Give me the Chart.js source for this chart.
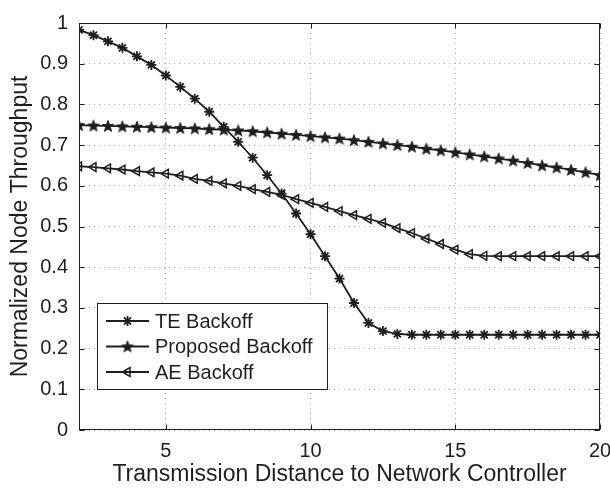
<!DOCTYPE html>
<html><head><meta charset="utf-8">
<script src="https://cdn.jsdelivr.net/npm/chart.js@4.4.0/dist/chart.umd.min.js"></script>
<style>html,body{margin:0;padding:0;background:#fff;}#wrap{width:610px;height:491px;}</style>
</head><body><div id="wrap"><canvas id="c" width="610" height="491"></canvas></div>
<script>
const distances = [2,2.5,3,3.5,4,4.5,5,5.5,6,6.5,7,7.5,8,8.5,9,9.5,10,10.5,11,11.5,12,12.5,13,13.5,14,14.5,15,15.5,16,16.5,17,17.5,18,18.5,19,19.5,20];
const teBackoff = [0.983,0.970,0.955,0.939,0.918,0.897,0.871,0.843,0.814,0.782,0.745,0.708,0.669,0.626,0.581,0.532,0.481,0.427,0.372,0.312,0.263,0.243,0.236,0.234,0.234,0.234,0.234,0.234,0.234,0.234,0.234,0.234,0.234,0.234,0.234,0.234,0.234];
const proposedBackoff = [0.749,0.748,0.747,0.746,0.745,0.744,0.743,0.742,0.741,0.739,0.738,0.736,0.734,0.731,0.728,0.725,0.722,0.719,0.716,0.712,0.708,0.704,0.700,0.696,0.691,0.687,0.682,0.677,0.672,0.667,0.662,0.656,0.650,0.645,0.639,0.633,0.626];
const aeBackoff = [0.648,0.646,0.643,0.640,0.636,0.633,0.630,0.625,0.617,0.612,0.606,0.600,0.592,0.585,0.578,0.567,0.558,0.548,0.538,0.528,0.519,0.509,0.496,0.484,0.470,0.457,0.443,0.432,0.428,0.427,0.427,0.427,0.427,0.427,0.427,0.427,0.427];
const xTicks = [5,10,15,20];
const yTicks = [0,0.1,0.2,0.3,0.4,0.5,0.6,0.7,0.8,0.9,1];
const seriesNames = ['TE Backoff','Proposed Backoff','AE Backoff'];
const xTitle = 'Transmission Distance to Network Controller';
const yTitle = 'Normalized Node Throughput';

const INK = '#1e1e1e';
const FONT = "'Liberation Sans', Arial, Helvetica, sans-serif";

function makeStar(r){
  const s = Math.ceil(r*2+4);
  const c = document.createElement('canvas'); c.width = s; c.height = s;
  const g = c.getContext('2d');
  g.translate(s/2, s/2+0.5);
  g.beginPath();
  for (let k=0;k<10;k++){
    const rr = (k%2) ? r*0.42 : r;
    const a = -Math.PI/2 + k*Math.PI/5;
    g.lineTo(rr*Math.cos(a), rr*Math.sin(a));
  }
  g.closePath();
  g.fillStyle = INK; g.fill();
  g.lineWidth = 1; g.strokeStyle = INK; g.stroke();
  return c;
}
const starImg = makeStar(6);

const pts = arr => distances.map((d,i)=>({x:d, y:arr[i]}));

const frame = {
  id:'frame',
  afterDraw(chart){
    const {ctx, chartArea:a, scales:{x, y}} = chart;
    ctx.save();
    ctx.strokeStyle = INK; ctx.lineWidth = 1;
    const L = Math.round(a.left)+0.5, R = Math.round(a.right)-0.5, T = Math.round(a.top)+0.5, B = Math.round(a.bottom)-0.5;
    ctx.strokeRect(L, T, R-L, B-T);
    const tl = 5;
    ctx.beginPath();
    xTicks.forEach(v=>{
      const px = Math.round(x.getPixelForValue(v))+0.5;
      ctx.moveTo(px, B); ctx.lineTo(px, B-tl);
      ctx.moveTo(px, T); ctx.lineTo(px, T+tl);
    });
    yTicks.forEach(v=>{
      const py = Math.round(y.getPixelForValue(v))+0.5;
      ctx.moveTo(L, py); ctx.lineTo(L+tl, py);
      ctx.moveTo(R, py); ctx.lineTo(R-tl, py);
    });
    ctx.stroke();

    // legend
    const lx = 97.5, ly = 303.5, lw = 230, lh = 86;
    ctx.fillStyle = '#fff';
    ctx.fillRect(lx, ly, lw, lh);
    ctx.strokeStyle = INK; ctx.lineWidth = 1;
    ctx.strokeRect(lx, ly, lw, lh);
    ctx.font = '20px ' + FONT;
    ctx.textBaseline = 'middle';
    chart.data.datasets.forEach((ds, i)=>{
      const ry = 321 + i*25.5;
      ctx.strokeStyle = INK; ctx.lineWidth = 1.8;
      ctx.beginPath(); ctx.moveTo(106, ry); ctx.lineTo(149, ry); ctx.stroke();
      const opts = {pointStyle: ds.pointStyle, radius: ds.pointRadius, rotation: ds.pointRotation || 0, borderWidth: ds.pointBorderWidth};
      ctx.fillStyle = ds.pointBackgroundColor; ctx.strokeStyle = ds.pointBorderColor; ctx.lineWidth = ds.pointBorderWidth;
      if (Chart.helpers && Chart.helpers.drawPoint) Chart.helpers.drawPoint(ctx, opts, 127.5, ry);
      ctx.fillStyle = INK;
      ctx.fillText(ds.label, 155, ry+1);
    });
    ctx.restore();
  }
};

const gridCommon = {color:'#b0b0b0', lineWidth:1, drawTicks:false, borderDash:[1,4]};

new Chart(document.getElementById('c'), {
  type:'line',
  data:{datasets:[
    {label:seriesNames[0], data:pts(teBackoff), borderColor:INK, borderWidth:1.8, pointStyle:'star', pointRadius:5, pointBorderWidth:1.8, pointBorderColor:INK, pointBackgroundColor:INK, fill:false, tension:0},
    {label:seriesNames[1], data:pts(proposedBackoff), borderColor:INK, borderWidth:1.8, pointStyle:starImg, pointRadius:6, pointBorderWidth:1, pointBorderColor:INK, pointBackgroundColor:INK, fill:false, tension:0},
    {label:seriesNames[2], data:pts(aeBackoff), borderColor:INK, borderWidth:1.8, pointStyle:'triangle', pointRotation:270, pointRadius:5, pointBorderWidth:1.5, pointBorderColor:INK, pointBackgroundColor:'rgba(255,255,255,0)', fill:false, tension:0}
  ]},
  options:{
    responsive:false, animation:false, devicePixelRatio:1,
    layout:{padding:{left:0, right:10, top:12, bottom:0}},
    plugins:{legend:{display:false}, tooltip:{enabled:false}},
    scales:{
      x:{type:'linear', min:2, max:20,
        afterBuildTicks: s => { s.ticks = xTicks.map(v=>({value:v})); },
        afterFit: s => { s.height = 61; s.paddingRight = 0; s.paddingLeft = 0; },
        ticks:{font:{size:20, family:FONT}, color:INK, padding:9, maxRotation:0, autoSkip:false, callback:v=>String(v)},
        grid:gridCommon, border:{display:false, dash:[1,4]},
        title:{display:true, text:xTitle, font:{size:23, family:FONT}, color:INK, padding:{top:0,bottom:3}}
      },
      y:{type:'linear', min:0, max:1,
        afterBuildTicks: s => { s.ticks = yTicks.map(v=>({value:v})); },
        afterFit: s => { s.width = 79; },
        ticks:{font:{size:20, family:FONT}, color:INK, padding:11, autoSkip:false, callback:v=>String(v)},
        grid:gridCommon, border:{display:false, dash:[1,4]},
        title:{display:true, text:yTitle, font:{size:23, family:FONT}, color:INK, padding:{top:7,bottom:0}}
      }
    }
  },
  plugins:[frame]
});
</script></body></html>
